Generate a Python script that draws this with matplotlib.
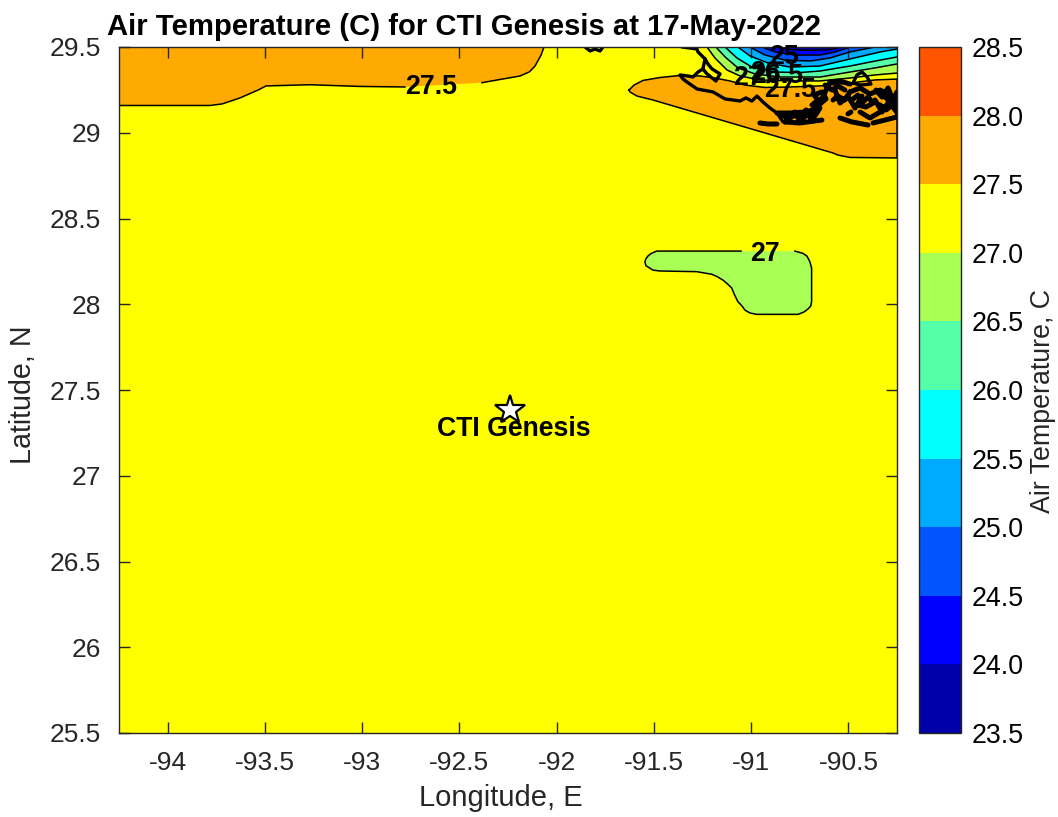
import numpy as np
import matplotlib
matplotlib.use('Agg')
import matplotlib.pyplot as plt
from matplotlib.colors import ListedColormap, BoundaryNorm
from matplotlib.cm import ScalarMappable

plt.rcParams['font.family'] = ['Liberation Sans', 'DejaVu Sans']

# temperature bands
levels = [23.5, 24.0, 24.5, 25.0, 25.5, 26.0, 26.5, 27.0, 27.5, 28.0, 28.5]
band_colors = ['#0000aa', '#0000ff', '#0055ff', '#00aaff', '#00ffff',
               '#55ffaa', '#aaff55', '#ffff00', '#ffaa00', '#ff5500']

x_ticks = [-94, -93.5, -93, -92.5, -92, -91.5, -91, -90.5]
x_labels = ['-94', '-93.5', '-93', '-92.5', '-92', '-91.5', '-91', '-90.5']
y_ticks = [25.5, 26, 26.5, 27, 27.5, 28, 28.5, 29, 29.5]
y_labels = ['25.5', '26', '26.5', '27', '27.5', '28', '28.5', '29', '29.5']

# 27.5 contour in the north west, split where the label sits
west_275_lon_a = [-94.25, -93.782, -93.72, -93.628, -93.535, -93.494, -93.268, -93.011, -92.78]
west_275_lat_a = [29.159, 29.159, 29.168, 29.203, 29.249, 29.273, 29.280, 29.270, 29.267]
west_275_lon_b = [-92.384, -92.188, -92.14, -92.111, -92.08, -92.065]
west_275_lat_b = [29.292, 29.331, 29.355, 29.389, 29.453, 29.5]

# 27.5 contour in the north east
east_275_lon = [-91.628, -91.602, -91.556, -91.469, -91.366, -91.263, -91.186, -91.109, -91.032,
                -90.929, -90.800, -90.646, -90.492, -90.363, -90.25, -90.25, -90.492, -90.554,
                -90.579, -91.505, -91.587, -91.623, -91.628]
east_275_lat = [29.249, 29.278, 29.305, 29.322, 29.334, 29.331, 29.319, 29.302, 29.278,
                29.264, 29.267, 29.273, 29.290, 29.308, 29.313, 28.853, 28.856, 28.870,
                28.882, 29.191, 29.214, 29.238, 29.249]

# 27 contour, open at the label
blob_27_lon = [-90.775, -90.734, -90.713, -90.698, -90.689, -90.689, -90.693, -90.708, -90.728,
               -90.759, -90.971, -91.006, -91.032, -91.047, -91.068, -91.085, -91.100, -91.124,
               -91.145, -91.176, -91.203, -91.280, -91.469, -91.505, -91.520, -91.541, -91.546,
               -91.541, -91.529, -91.515, -91.486, -91.052]
blob_27_lat = [28.310, 28.297, 28.281, 28.248, 28.211, 28.015, 27.990, 27.972, 27.955,
               27.941, 27.941, 27.949, 27.966, 27.990, 28.015, 28.054, 28.095, 28.121,
               28.141, 28.162, 28.175, 28.190, 28.194, 28.199, 28.210, 28.225, 28.248,
               28.265, 28.283, 28.295, 28.310, 28.310]

# cold pool contours in the north east corner
cold_levels = [27.0, 26.5, 26.0, 25.5, 25.0, 24.5, 24.0]
cold_lon = [
    [-91.227, -91.186, -91.124, -91.057, -90.955, -90.800, -90.646, -90.492, -90.363, -90.25],
    [-91.181, -91.134, -91.068, -90.980, -90.852, -90.646, -90.492, -90.363, -90.25],
    [-91.134, -91.073, -90.996, -90.877, -90.749, -90.646, -90.492, -90.363, -90.25],
    [-91.068, -91.006, -90.914, -90.800, -90.646, -90.492, -90.337, -90.25],
    [-91.006, -90.929, -90.826, -90.697, -90.594, -90.492, -90.363],
    [-90.944, -90.877, -90.775, -90.646, -90.569, -90.492],
    [-90.862, -90.800, -90.697, -90.594, -90.533],
]
cold_lat = [
    [29.5, 29.436, 29.366, 29.331, 29.308, 29.302, 29.302, 29.319, 29.337, 29.348],
    [29.5, 29.442, 29.378, 29.343, 29.325, 29.325, 29.354, 29.378, 29.401],
    [29.5, 29.436, 29.383, 29.354, 29.351, 29.360, 29.389, 29.418, 29.442],
    [29.5, 29.448, 29.407, 29.383, 29.389, 29.430, 29.471, 29.488],
    [29.5, 29.453, 29.424, 29.418, 29.436, 29.471, 29.5],
    [29.5, 29.471, 29.453, 29.453, 29.471, 29.5],
    [29.5, 29.485, 29.480, 29.485, 29.5],
]

# small 28 patch at the east edge
warm_28_lon = [-90.25, -90.27, -90.25]
warm_28_lat = [29.24, 29.22, 29.20]

# contour labels
label_text = ['27.5', '27', '27', '26', '26.5', '25', '27.5']
label_lon = [-92.646, -90.93, -91.015, -90.93, -90.867, -90.83, -90.80]
label_lat = [29.267, 28.295, 29.319, 29.351, 29.33, 29.439, 29.249]

# coastline, nan between pieces
coast_thin_lon = [-91.356, -91.314, -91.278, -91.273, -91.237, -91.248, -91.273, -91.299, -91.325,
                  -91.366, -91.350, -91.330, -91.278, -91.196, -91.134, -91.093, -91.057, -91.027,
                  -90.996, -90.970, -90.939, -90.903, -90.867, -90.836, np.nan,
                  -91.237, -91.222, -91.201, -91.160, -91.181, -91.227, -91.248, np.nan,
                  -90.476, -90.456, -90.430, -90.404, -90.384, -90.440, -90.476, np.nan,
                  -91.854, -91.828, -91.803, -91.777, -91.762]
coast_thin_lat = [29.5, 29.494, 29.488, 29.471, 29.430, 29.372, 29.354, 29.325, 29.331,
                  29.337, 29.313, 29.296, 29.255, 29.238, 29.197, 29.191, 29.185, 29.203,
                  29.185, 29.214, 29.179, 29.144, 29.115, 29.063, np.nan,
                  29.430, 29.401, 29.372, 29.343, 29.302, 29.343, 29.372, np.nan,
                  29.290, 29.337, 29.354, 29.325, 29.284, 29.278, 29.290, np.nan,
                  29.5, 29.477, 29.488, 29.477, 29.5]
coast_thick_lon = [-90.955, -90.913, -90.867, np.nan,
                   -90.826, -90.749, -90.672, -90.636, np.nan,
                   -90.867, -90.800, -90.723, -90.682, -90.661, -90.631, -90.610, -90.595, -90.543, -90.492, np.nan,
                   -90.492, -90.440, -90.389, -90.337, -90.286, -90.25, np.nan,
                   -90.440, -90.389, -90.337, -90.317, np.nan,
                   -90.543, -90.482, -90.399, np.nan,
                   -90.373, -90.312, -90.25, np.nan,
                   -90.579, -90.554, -90.518, -90.492, np.nan,
                   -90.260, -90.296, -90.337, np.nan,
                   -90.502, -90.487, np.nan,
                   -90.836, -90.800, -90.764, -90.733, -90.697, -90.672, -90.646, np.nan,
                   -90.687, -90.656, -90.677, -90.636, -90.615, -90.646, np.nan,
                   -90.482, -90.451, -90.430, -90.399, -90.373, -90.410, -90.451, np.nan,
                   -90.358, -90.327, -90.296, -90.271, -90.25, np.nan,
                   -90.337, -90.306, -90.266, -90.25, np.nan,
                   -90.620, -90.584, -90.554, -90.518, np.nan,
                   -90.826, -90.775, -90.749, -90.718, -90.687, np.nan,
                   -90.569, -90.543, -90.502, -90.466, -90.430, np.nan,
                   -90.363, -90.327, -90.286, -90.25]
coast_thick_lat = [29.057, 29.051, 29.051, np.nan,
                   29.063, 29.057, 29.069, 29.074, np.nan,
                   29.115, 29.115, 29.121, 29.133, 29.173, 29.208, 29.261, 29.296, 29.302, 29.284, np.nan,
                   29.238, 29.261, 29.226, 29.249, 29.220, 29.191, np.nan,
                   29.121, 29.086, 29.121, 29.150, np.nan,
                   29.086, 29.063, 29.045, np.nan,
                   29.057, 29.074, 29.092, np.nan,
                   29.191, 29.214, 29.191, 29.238, np.nan,
                   29.133, 29.191, 29.238, np.nan,
                   29.110, 29.121, np.nan,
                   29.098, 29.086, 29.109, 29.086, 29.115, 29.098, 29.144, np.nan,
                   29.162, 29.191, 29.220, 29.238, 29.197, 29.168, np.nan,
                   29.191, 29.220, 29.173, 29.208, 29.173, 29.150, 29.162, np.nan,
                   29.249, 29.208, 29.261, 29.191, 29.238, np.nan,
                   29.162, 29.133, 29.168, 29.115, np.nan,
                   29.278, 29.249, 29.273, 29.249, np.nan,
                   29.063, 29.121, 29.063, 29.133, 29.069, np.nan,
                   29.249, 29.173, 29.214, 29.144, 29.214, np.nan,
                   29.191, 29.121, 29.191, 29.156]

station_lon = [-92.24]
station_lat = [27.385]
station_name = 'CTI Genesis'
station_label_lon = -92.22
station_label_lat = 27.27

x_min, x_max = -94.25, -90.25
y_min, y_max = 25.5, 29.5


def band_color(level):
    # colour of the band just below this level
    return band_colors[levels.index(level) - 1]


fig = plt.figure(figsize=(10.58, 8.17), dpi=100)
W, H = 1058.0, 817.0
ax = fig.add_axes([119 / W, 1 - 733 / H, 778 / W, 686 / H])
cax = fig.add_axes([919 / W, 1 - 733 / H, 42 / W, 686 / H])

ax.set_facecolor(band_colors[levels.index(27.0)])
ax.set_xlim(x_min, x_max)
ax.set_ylim(y_min, y_max)

# filled regions
ax.fill(west_275_lon_a + west_275_lon_b + [x_min], west_275_lat_a + west_275_lat_b + [y_max],
        color=band_colors[levels.index(27.5)], lw=0)
ax.fill(east_275_lon, east_275_lat, color=band_colors[levels.index(27.5)], lw=0)
ax.fill(warm_28_lon, warm_28_lat, color=band_colors[levels.index(28.0)], lw=0)
ax.fill(blob_27_lon, blob_27_lat, color=band_color(27.0), lw=0)
for level, lons, lats in zip(cold_levels, cold_lon, cold_lat):
    if lats[-1] < y_max:
        lons = lons + [x_max]
        lats = lats + [y_max]
    ax.fill(lons, lats, color=band_color(level), lw=0)

# contour lines
line_kw = dict(color='black', lw=1.1, solid_joinstyle='round')
ax.plot(west_275_lon_a, west_275_lat_a, **line_kw)
ax.plot(west_275_lon_b, west_275_lat_b, **line_kw)
ax.plot(east_275_lon, east_275_lat, **line_kw)
ax.plot(blob_27_lon, blob_27_lat, **line_kw)
for lons, lats in zip(cold_lon, cold_lat):
    ax.plot(lons, lats, **line_kw)

# coast
ax.plot(coast_thin_lon, coast_thin_lat, color='black', lw=2.4, solid_capstyle='round', solid_joinstyle='round')
ax.plot(coast_thick_lon, coast_thick_lat, color='black', lw=3.6, solid_capstyle='round', solid_joinstyle='round')

for txt, lon, lat in zip(label_text, label_lon, label_lat):
    ax.text(lon, lat, txt, fontsize=19.3, fontweight='bold', ha='center', va='center', color='black')

# site marker
ax.plot(station_lon, station_lat, marker='*', ms=22, mfc='white', mec='black', mew=1.6, ls='none')
ax.text(station_label_lon, station_label_lat, station_name, fontsize=19.2, fontweight='bold',
        ha='center', va='center', color='black')

ax.set_xticks(x_ticks)
ax.set_xticklabels(x_labels)
ax.set_yticks(y_ticks)
ax.set_yticklabels(y_labels)
ax.tick_params(axis='x', direction='in', length=8, width=1, top=True, labelsize=19,
               color='#262626', labelcolor='#262626', pad=13)
ax.tick_params(axis='y', direction='in', length=8, width=1, right=True, labelsize=19,
               color='#262626', labelcolor='#262626', pad=13)
for spine in ax.spines.values():
    spine.set_color('#262626')
    spine.set_linewidth(1.0)

ax.set_xlabel('Longitude, E', fontsize=21, color='#262626')
ax.set_ylabel('Latitude, N', fontsize=20.6, color='#262626')
ax.xaxis.set_label_coords(0.491, -0.074)
ax.yaxis.set_label_coords(-0.105, 0.493)
fig.text(464 / W, 1 - 27 / H, 'Air Temperature (C) for CTI Genesis at 17-May-2022', fontsize=21.1,
         fontweight='bold', ha='center', va='center', color='black')

# colorbar
cmap = ListedColormap(band_colors)
norm = BoundaryNorm(levels, cmap.N)
cb = fig.colorbar(ScalarMappable(norm=norm, cmap=cmap), cax=cax, spacing='proportional')
cb.set_ticks(levels)
cb.set_ticklabels(['%.1f' % v for v in levels])
cax.tick_params(length=0, labelsize=19.3, labelcolor='black', pad=8)
cb.minorticks_off()
cb.outline.set_edgecolor('#262626')
cb.outline.set_linewidth(1.0)
fig.text(1043 / W, 1 - 401 / H, 'Air Temperature, C', fontsize=19.3, rotation=90,
         ha='center', va='center', color='#262626')

fig.savefig('out.png', dpi=100)
